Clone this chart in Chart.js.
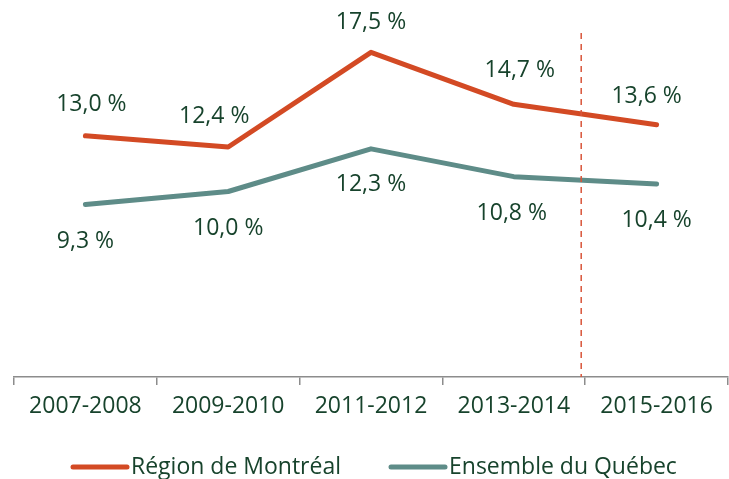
<!DOCTYPE html>
<html>
<head>
<meta charset="utf-8">
<script src="https://cdn.jsdelivr.net/npm/chart.js@4.4.1/dist/chart.umd.min.js"></script>
<style>
  html, body { margin: 0; padding: 0; background: #fff; }
  #wrap { width: 729px; height: 479px; }
</style>
</head>
<body>
<div id="wrap"><canvas id="myChart"></canvas></div>
<script>
const periods = ['2007-2008', '2009-2010', '2011-2012', '2013-2014', '2015-2016'];
const montreal = [13.0, 12.4, 17.5, 14.7, 13.6];
const quebec = [9.3, 10.0, 12.3, 10.8, 10.4];
const seriesNames = ['Région de Montréal', 'Ensemble du Québec'];

const textColor = '#17432c';
const fontFamily = '"Open Sans", sans-serif';

// nudges for the value labels (style only)
const labelShift = [
    [{ x: 6, y: -31 }, { x: -14, y: -31 }, { x: 0, y: -30 }, { x: 6, y: -34 }, { x: -10, y: -28 }],
    [{ x: 0, y: 37 }, { x: 0, y: 37 }, { x: 0, y: 36 }, { x: -2, y: 37 }, { x: 0, y: 36 }]
];

function fmt(v) {
    return v.toFixed(1).replace('.', ',') + ' %';
}

const valueLabels = {
    id: 'valueLabels',
    afterDatasetsDraw(chart) {
        const ctx = chart.ctx;
        ctx.save();
        ctx.font = '23px ' + fontFamily;
        ctx.fillStyle = textColor;
        ctx.textAlign = 'center';
        ctx.textBaseline = 'middle';
        chart.data.datasets.forEach(function (ds, i) {
            const meta = chart.getDatasetMeta(i);
            meta.data.forEach(function (pt, j) {
                const s = labelShift[i][j];
                ctx.fillText(fmt(ds.data[j]), pt.x + s.x, pt.y + s.y);
            });
        });
        ctx.restore();
    }
};

// dashed marker before the last period
const marker = {
    id: 'marker',
    afterDatasetsDraw(chart) {
        const x = chart.scales.x;
        const px = (x.getPixelForValue(3) + x.getPixelForValue(4)) / 2 - 4;
        const ctx = chart.ctx;
        ctx.save();
        ctx.strokeStyle = '#d9553a';
        ctx.lineWidth = 1.5;
        ctx.setLineDash([6, 5]);
        ctx.beginPath();
        ctx.moveTo(px, 33);
        ctx.lineTo(px, chart.chartArea.bottom);
        ctx.stroke();
        ctx.restore();
    }
};

const legendLines = {
    id: 'legendLines',
    afterDraw(chart) {
        const ctx = chart.ctx;
        const starts = [73, 391];
        ctx.save();
        ctx.font = '23px ' + fontFamily;
        ctx.textBaseline = 'middle';
        chart.data.datasets.forEach(function (ds, i) {
            const x0 = starts[i];
            const y = 467;
            ctx.strokeStyle = ds.borderColor;
            ctx.lineWidth = 5;
            ctx.lineCap = 'round';
            ctx.beginPath();
            ctx.moveTo(x0, y);
            ctx.lineTo(x0 + 54, y);
            ctx.stroke();
            ctx.fillStyle = textColor;
            ctx.fillText(ds.label, x0 + 58, y);
        });
        ctx.restore();
    }
};

const config = {
    type: 'line',
    data: {
        labels: periods,
        datasets: [{
            label: seriesNames[0],
            data: montreal,
            borderColor: '#d34a24',
            backgroundColor: '#d34a24',
            borderWidth: 5,
            borderCapStyle: 'round',
            borderJoinStyle: 'round',
            pointRadius: 0,
            tension: 0
        }, {
            label: seriesNames[1],
            data: quebec,
            borderColor: '#5e8c88',
            backgroundColor: '#5e8c88',
            borderWidth: 5,
            borderCapStyle: 'round',
            borderJoinStyle: 'round',
            pointRadius: 0,
            tension: 0
        }]
    },
    options: {
        responsive: true,
        maintainAspectRatio: false,
        animation: false,
        layout: {
            padding: { left: 14, right: 1, top: 6, bottom: 0 }
        },
        plugins: {
            legend: { display: false },
            tooltip: { enabled: false }
        },
        scales: {
            x: {
                offset: true,
                grid: {
                    offset: true,
                    drawOnChartArea: false,
                    tickLength: 8,
                    color: '#8c8c8c',
                    lineWidth: 1.5
                },
                border: { color: '#8c8c8c', width: 1.5 },
                ticks: {
                    color: textColor,
                    font: { family: fontFamily, size: 23 },
                    padding: 8,
                    maxRotation: 0
                },
                afterFit(scale) { scale.height = 102; }
            },
            y: {
                display: false,
                min: 0,
                max: 20
            }
        }
    },
    plugins: [valueLabels, marker, legendLines]
};

new Chart(document.getElementById('myChart'), config);
</script>
</body>
</html>
